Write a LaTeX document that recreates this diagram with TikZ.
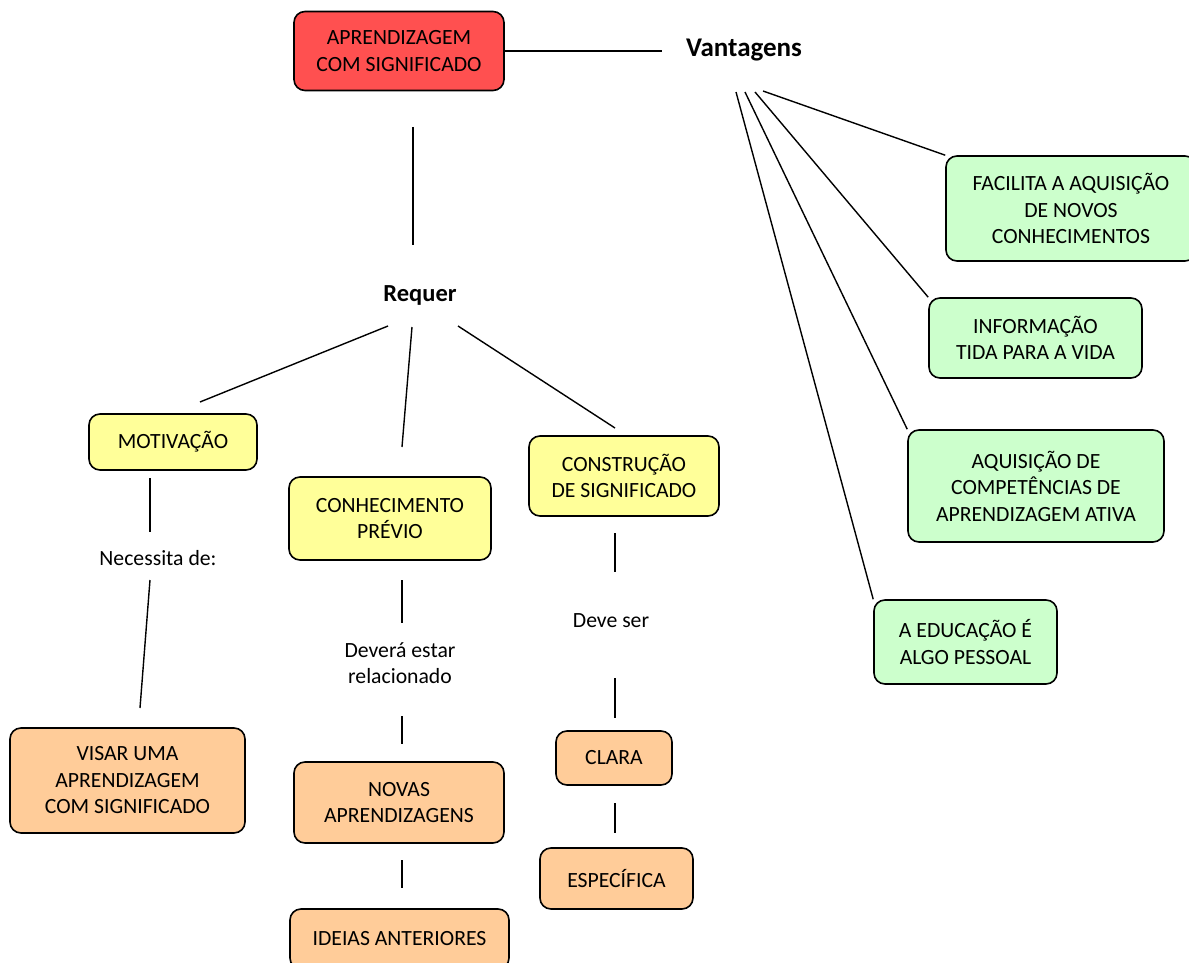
\documentclass[tikz,border=0pt]{standalone}
\usepackage{fontspec}
\setmainfont{Carlito}
\usepackage{xcolor}
\definecolor{ColRed}{RGB}{255,80,80}
\definecolor{ColYel}{RGB}{255,255,153}
\definecolor{ColGre}{RGB}{204,255,204}
\definecolor{ColOra}{RGB}{255,204,153}
\usepackage{tikz}
\tikzstyle{Box}=[draw=black,line width=1.6pt,rounded corners=11pt,inner sep=0pt,
align=center,font=\fontsize{21.7}{26.5}\selectfont]
\tikzstyle{BoxRed}=[Box,fill=ColRed]
\tikzstyle{BoxYel}=[Box,fill=ColYel]
\tikzstyle{BoxGre}=[Box,fill=ColGre]
\tikzstyle{BoxOra}=[Box,fill=ColOra]
\tikzstyle{Link}=[align=center,font=\fontsize{21.7}{26.5}\selectfont]
\tikzstyle{LinkBold}=[font=\fontsize{24.5}{28}\selectfont\bfseries]
\tikzstyle{Edge}=[draw=black,line width=1.4pt]

\begin{document}
\begin{tikzpicture}[x=1pt,y=-1pt]
        \useasboundingbox(0,0)rectangle(1189,963);
        \node[BoxRed,minimum width=210pt,minimum height=79pt](asig)at(399,51){APRENDIZAGEM\\COM SIGNIFICADO};
        \node[LinkBold,font=\fontsize{27}{30}\selectfont\bfseries](vant)at(744,50){Vantagens};
        \node[LinkBold](req)at(420,295){Requer};
        \node[BoxYel,minimum width=168pt,minimum height=56pt](mot)at(173,442){MOTIVAÇÃO};
        \node[BoxYel,minimum width=202pt,minimum height=83pt](conh)at(390,518.5){CONHECIMENTO\\PRÉVIO};
        \node[BoxYel,minimum width=190pt,minimum height=80pt](cons)at(624,476){CONSTRUÇÃO\\DE SIGNIFICADO};
        \node[Link](nec)at(158,558){Necessita de:};
        \node[Link](dev)at(400,663){Deverá estar\\relacionado};
        \node[Link](dser)at(611,621){Deve ser};
        \node[BoxOra,minimum width=235pt,minimum height=105pt](vis)at(127.5,780.5){VISAR UMA\\APRENDIZAGEM\\COM SIGNIFICADO};
        \node[BoxOra,minimum width=210pt,minimum height=81pt](nov)at(399,802.5){NOVAS\\APRENDIZAGENS};
        \node[BoxOra,minimum width=219pt,minimum height=60pt](ide)at(399.5,939){IDEIAS ANTERIORES};
        \node[BoxOra,minimum width=116pt,minimum height=54pt](cla)at(614,758){CLARA};
        \node[BoxOra,minimum width=153pt,minimum height=61pt](esp)at(616.5,878.5){ESPECÍFICA};
        \node[BoxGre,minimum width=250pt,minimum height=105pt](fac)at(1071,208.5){FACILITA A AQUISIÇÃO\\DE NOVOS\\CONHECIMENTOS};
        \node[BoxGre,minimum width=213pt,minimum height=80pt](inf)at(1035.5,338){INFORMAÇÃO\\TIDA PARA A VIDA};
        \node[BoxGre,minimum width=256pt,minimum height=112pt](aqu)at(1036,486){AQUISIÇÃO DE\\COMPETÊNCIAS DE\\APRENDIZAGEM ATIVA};
        \node[BoxGre,minimum width=183pt,minimum height=84pt](edu)at(965.5,642){A EDUCAÇÃO É\\ALGO PESSOAL};
        % line ends
        \coordinate(v0)at(662,51);
        \coordinate(r0)at(413,127);
        \coordinate(r1)at(413,245);
        \coordinate(r2)at(388,326);
        \coordinate(r3)at(200,402);
        \coordinate(r4)at(412,327);
        \coordinate(r5)at(402,447);
        \coordinate(r6)at(458,326);
        \coordinate(r7)at(615,428);
        \coordinate(m0)at(150,478);
        \coordinate(m1)at(150,532);
        \coordinate(m2)at(150,580);
        \coordinate(m3)at(140,708);
        \coordinate(c0)at(402,580);
        \coordinate(c1)at(402,623);
        \coordinate(c2)at(402,716);
        \coordinate(c3)at(402,744);
        \coordinate(c4)at(402,860);
        \coordinate(c5)at(402,888);
        \coordinate(s0)at(615,533);
        \coordinate(s1)at(615,572);
        \coordinate(s2)at(615,678);
        \coordinate(s3)at(615,718);
        \coordinate(s4)at(615,803);
        \coordinate(s5)at(615,833);
        \coordinate(g0)at(763,91);
        \coordinate(g1)at(755,92);
        \coordinate(g2)at(745,92);
        \coordinate(g3)at(736,92);
        \draw[Edge](asig.east)--(v0);
        \draw[Edge](r0)--(r1);
        \draw[Edge](r2)--(r3);
        \draw[Edge](r4)--(r5);
        \draw[Edge](r6)--(r7);
        \draw[Edge](m0)--(m1);
        \draw[Edge](m2)--(m3);
        \draw[Edge](c0)--(c1);
        \draw[Edge](c2)--(c3);
        \draw[Edge](c4)--(c5);
        \draw[Edge](s0)--(s1);
        \draw[Edge](s2)--(s3);
        \draw[Edge](s4)--(s5);
        \draw[Edge](g0)--(fac.north west);
        \draw[Edge](g1)--(inf.north west);
        \draw[Edge](g2)--(aqu.north west);
        \draw[Edge](g3)--(edu.north west);
    \end{tikzpicture}
\end{document}
